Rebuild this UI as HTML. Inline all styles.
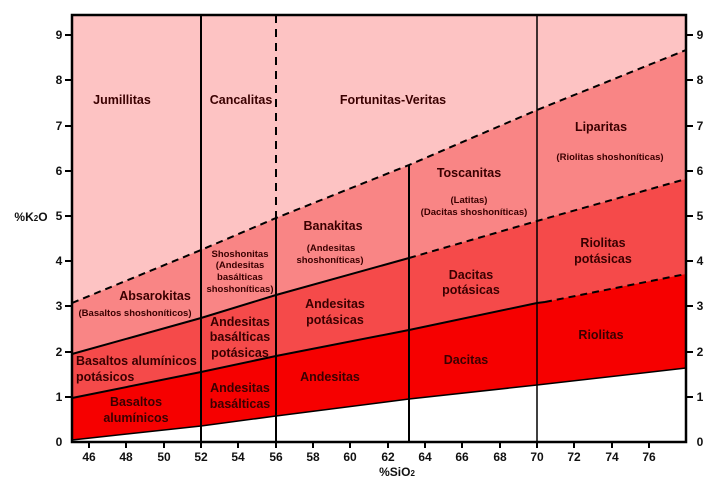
<!DOCTYPE html>
<html><head><style>
body{margin:0;background:#fff}
svg text{font-family:"Liberation Sans",Arial,sans-serif;font-weight:bold}
</style></head><body>
<svg width="720" height="486" viewBox="0 0 720 486" xmlns="http://www.w3.org/2000/svg">
<rect x="72" y="15" width="614" height="427" fill="#fdc3c3"/>
<polygon points="72,303 201,250 276,218 409,165 537,110 686,50 686,442 72,442" fill="#f98585"/>
<polygon points="72,354 201,318 276,295 409,258 537,221 686,179 686,442 72,442" fill="#f54a4a"/>
<polygon points="72,398 201,372 276,356 409,330 537,303 545,302 686,274 686,442 72,442" fill="#f60000"/>
<polygon points="72,440 201,426 276,416 409,399 537,385 686,368 686,442 72,442" fill="#fff"/>
<g stroke="#000" fill="none" stroke-width="2">
<polyline points="72,440 201,426 276,416 409,399 537,385 686,368" stroke-width="1.5"/>
<polyline points="72,398 201,372 276,356 409,330 537,303 545,302"/>
<polyline points="545,302 686,274" stroke-dasharray="7,5"/>
<polyline points="72,354 201,318 276,295 409,258"/>
<polyline points="409,258 537,221 686,179" stroke-dasharray="7,5"/>
<polyline points="72,303 201,250 276,218 409,165 537,110 686,50" stroke-dasharray="7,5"/>
<line x1="201" y1="15" x2="201" y2="442"/>
<line x1="276" y1="15" x2="276" y2="218" stroke-dasharray="8,6"/>
<line x1="276" y1="218" x2="276" y2="442"/>
<line x1="409" y1="165" x2="409" y2="442"/>
<line x1="537" y1="15" x2="537" y2="442" stroke-width="1.5"/>
<rect x="72" y="15" width="614" height="427" stroke-width="2.5"/>
</g>
<g stroke="#000" stroke-width="2">
<line x1="65" y1="35" x2="72" y2="35"/><line x1="65" y1="80" x2="72" y2="80"/><line x1="65" y1="126" x2="72" y2="126"/><line x1="65" y1="171" x2="72" y2="171"/><line x1="65" y1="216" x2="72" y2="216"/><line x1="65" y1="261" x2="72" y2="261"/><line x1="65" y1="306" x2="72" y2="306"/><line x1="65" y1="352" x2="72" y2="352"/><line x1="65" y1="397" x2="72" y2="397"/>
<line x1="686" y1="35" x2="693" y2="35"/><line x1="686" y1="80" x2="693" y2="80"/><line x1="686" y1="126" x2="693" y2="126"/><line x1="686" y1="171" x2="693" y2="171"/><line x1="686" y1="216" x2="693" y2="216"/><line x1="686" y1="261" x2="693" y2="261"/><line x1="686" y1="306" x2="693" y2="306"/><line x1="686" y1="352" x2="693" y2="352"/><line x1="686" y1="397" x2="693" y2="397"/>
<line x1="89" y1="442" x2="89" y2="448"/><line x1="126" y1="442" x2="126" y2="448"/><line x1="164" y1="442" x2="164" y2="448"/><line x1="201" y1="442" x2="201" y2="448"/><line x1="238" y1="442" x2="238" y2="448"/><line x1="276" y1="442" x2="276" y2="448"/><line x1="313" y1="442" x2="313" y2="448"/><line x1="350" y1="442" x2="350" y2="448"/><line x1="388" y1="442" x2="388" y2="448"/><line x1="425" y1="442" x2="425" y2="448"/><line x1="462" y1="442" x2="462" y2="448"/><line x1="500" y1="442" x2="500" y2="448"/><line x1="537" y1="442" x2="537" y2="448"/><line x1="574" y1="442" x2="574" y2="448"/><line x1="612" y1="442" x2="612" y2="448"/><line x1="649" y1="442" x2="649" y2="448"/>
</g>
<g font-size="12" fill="#111" text-anchor="middle">
<text x="59" y="39">9</text><text x="59" y="84">8</text><text x="59" y="130">7</text><text x="59" y="175">6</text><text x="59" y="220">5</text><text x="59" y="265">4</text><text x="59" y="310">3</text><text x="59" y="356">2</text><text x="59" y="401">1</text><text x="59" y="446">0</text>
<text x="700" y="39">9</text><text x="700" y="84">8</text><text x="700" y="130">7</text><text x="700" y="175">6</text><text x="700" y="220">5</text><text x="700" y="265">4</text><text x="700" y="310">3</text><text x="700" y="356">2</text><text x="700" y="401">1</text><text x="700" y="446">0</text>
<text x="89" y="461">46</text><text x="126" y="461">48</text><text x="164" y="461">50</text><text x="201" y="461">52</text><text x="238" y="461">54</text><text x="276" y="461">56</text><text x="313" y="461">58</text><text x="350" y="461">60</text><text x="388" y="461">62</text><text x="425" y="461">64</text><text x="462" y="461">66</text><text x="500" y="461">68</text><text x="537" y="461">70</text><text x="574" y="461">72</text><text x="612" y="461">74</text><text x="649" y="461">76</text>
<text x="397" y="476">%SiO<tspan font-size="8">2</tspan></text>
<text x="31" y="221">%K<tspan font-size="8">2</tspan>O</text>
</g>
<g font-size="12.5" fill="#3a0000" text-anchor="middle">
<text x="122" y="104">Jumillitas</text><text x="241" y="104">Cancalitas</text><text x="393" y="104">Fortunitas-Veritas</text>
<text x="601" y="131">Liparitas</text><text x="469" y="177">Toscanitas</text><text x="333" y="230">Banakitas</text>
<text x="155" y="300">Absarokitas</text>
<text x="335" y="308">Andesitas</text><text x="335" y="324">potásicas</text>
<text x="240" y="326">Andesitas</text><text x="240" y="341">basálticas</text><text x="240" y="357">potásicas</text>
<text x="76" y="365" text-anchor="start">Basaltos alumínicos</text><text x="76" y="381" text-anchor="start">potásicos</text>
<text x="471" y="279">Dacitas</text><text x="471" y="294">potásicas</text>
<text x="603" y="247">Riolitas</text><text x="603" y="263">potásicas</text>
<text x="601" y="339">Riolitas</text><text x="466" y="364">Dacitas</text><text x="330" y="381">Andesitas</text>
<text x="240" y="392">Andesitas</text><text x="240" y="408">basálticas</text>
<text x="136" y="406">Basaltos</text><text x="136" y="422">alumínicos</text>
</g>
<g font-size="9.5" fill="#3a0000" text-anchor="middle" font-weight="normal">
<text x="610" y="160">(Riolitas shoshoníticas)</text>
<text x="469" y="203">(Latitas)</text><text x="474" y="215">(Dacitas shoshoníticas)</text>
<text x="331" y="251">(Andesitas</text><text x="330" y="263">shoshoníticas)</text>
<text x="240" y="257">Shoshonitas</text><text x="240" y="268">(Andesitas</text><text x="240" y="280">basálticas</text><text x="240" y="292">shoshoníticas)</text>
<text x="135" y="316">(Basaltos shoshoníticos)</text>
</g>
</svg>
</body></html>
